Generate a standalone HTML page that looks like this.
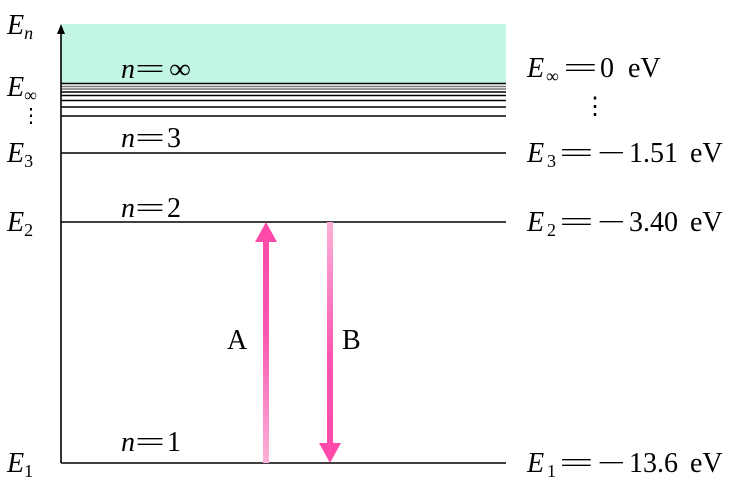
<!DOCTYPE html>
<html><head><meta charset="utf-8"><style>
body{margin:0;background:#fff}
svg{display:block}
text{font-family:"Liberation Serif","DejaVu Serif",serif;font-size:28px;fill:#000}
.i{font-style:italic}
.s{font-size:18px}
</style></head><body>
<svg width="756" height="488" viewBox="0 0 756 488">
<defs>
<linearGradient id="ga" x1="0" y1="1" x2="0" y2="0"><stop offset="0" stop-color="#fbb0d8"/><stop offset="0.6" stop-color="#ff55b0"/><stop offset="1" stop-color="#ff4aaa"/></linearGradient>
<linearGradient id="gb" x1="0" y1="0" x2="0" y2="1"><stop offset="0" stop-color="#fbb0d8"/><stop offset="0.6" stop-color="#ff55b0"/><stop offset="1" stop-color="#ff4aaa"/></linearGradient>
</defs>
<rect x="61" y="24" width="445" height="59" fill="#c3f5e3"/>
<g stroke="#000" stroke-width="1.6">
<line x1="61" y1="83.5" x2="506" y2="83.5"/>
<line x1="61" y1="86.5" x2="506" y2="86.5" stroke="#777"/>
<line x1="61" y1="89" x2="506" y2="89" stroke="#777"/>
<line x1="61" y1="92" x2="506" y2="92"/>
<line x1="61" y1="95.5" x2="506" y2="95.5"/>
<line x1="61" y1="100.5" x2="506" y2="100.5"/>
<line x1="61" y1="107" x2="506" y2="107"/>
<line x1="61" y1="116" x2="506" y2="116"/>
<line x1="61" y1="153" x2="506" y2="153"/>
<line x1="61" y1="222" x2="506" y2="222"/>
<line x1="61" y1="463" x2="506" y2="463"/>
<line x1="61" y1="463" x2="61" y2="30"/>
</g>
<polygon points="61,24 57,34 65,34" fill="#000"/>
<rect x="263" y="240" width="6" height="223" fill="url(#ga)"/>
<polygon points="266,222 255,242 277,242" fill="#ff4aaa"/>
<rect x="327" y="222" width="6" height="223" fill="url(#gb)"/>
<polygon points="330,463 319,443 341,443" fill="#ff4aaa"/>
<text x="227" y="349">A</text>
<text x="342" y="349">B</text>

<text x="121" y="78" class="i">n</text><text transform="translate(135,78) scale(1.9,1)">=</text><text transform="translate(169,78) scale(1.1,1)">∞</text>
<text x="121" y="147" class="i">n</text><text transform="translate(135,147) scale(1.9,1)">=</text><text x="167" y="147">3</text>
<text x="121" y="217" class="i">n</text><text transform="translate(135,217) scale(1.9,1)">=</text><text x="167" y="217">2</text>
<text x="121" y="451" class="i">n</text><text transform="translate(135,451) scale(1.9,1)">=</text><text x="167" y="451">1</text>

<text x="7" y="34" class="i">E<tspan class="s" dy="5">n</tspan></text>
<text x="7" y="96" class="i">E<tspan class="s" dy="5" font-style="normal">∞</tspan></text>
<text x="21" y="122" style="font-size:20px">⋮</text>
<text x="7" y="162" class="i">E<tspan class="s" dy="5" font-style="normal">3</tspan></text>
<text x="7" y="231" class="i">E<tspan class="s" dy="5" font-style="normal">2</tspan></text>
<text x="7" y="472" class="i">E<tspan class="s" dy="5" font-style="normal">1</tspan></text>

<text x="527" y="77" class="i">E</text><text x="546" y="82" class="s">∞</text><text transform="translate(563,77) scale(2.2,1)">=</text><text x="600" y="77">0</text><text x="628" y="77">eV</text>
<text x="583" y="114" style="font-size:24px">⋮</text>

<text x="527" y="162" class="i">E</text><text x="547" y="167" class="s">3</text><text transform="translate(559,162) scale(2.2,1)">=</text><text transform="translate(597,162) scale(1.8,1)">−</text><text x="629" y="162">1.51</text><text x="690" y="162">eV</text>
<text x="527" y="231" class="i">E</text><text x="547" y="236" class="s">2</text><text transform="translate(559,231) scale(2.2,1)">=</text><text transform="translate(597,231) scale(1.8,1)">−</text><text x="629" y="231">3.40</text><text x="690" y="231">eV</text>
<text x="527" y="472" class="i">E</text><text x="547" y="477" class="s">1</text><text transform="translate(559,472) scale(2.2,1)">=</text><text transform="translate(597,472) scale(1.8,1)">−</text><text x="629" y="472">13.6</text><text x="690" y="472">eV</text>
</svg>
</body></html>
